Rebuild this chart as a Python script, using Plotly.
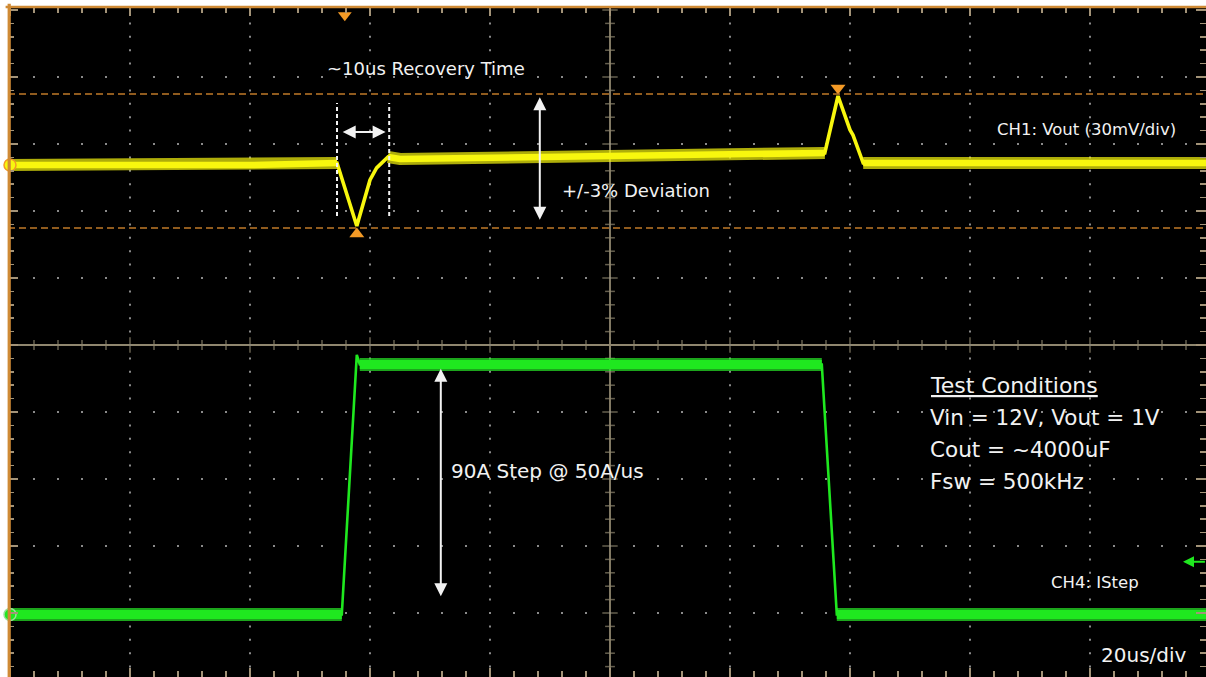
import plotly.graph_objects as go

# ---------------- data (read from the scope capture) ----------------
# CH1: Vout deviation from 1 V nominal, mV  (30 mV/div)
vout_t_us = [-0.33, 20.0, 40.0, 54.5, 57.8, 60.0, 61.1, 63.0, 65.0, 100.0, 120.0,
             135.8, 138.0, 140.0, 140.5, 142.2, 160.0, 199.33]
vout_mv = [-1.8, -1.8, -1.8, -0.9, -29.1, -8.5, -3.1, 1.8, 0.9, 2.2, 2.9,
           3.6, 29.1, 13.9, 11.6, -0.9, -0.9, -0.9]
vout_flat_segments = [(0, 3), (7, 11), (15, 17)]     # index ranges of steady state

# CH4: load current step, A
istep_t_us = [-0.33, 55.3, 57.8, 58.3, 100.0, 135.3, 137.8, 199.33]
istep_a = [0.0, 0.0, 93.5, 90.0, 90.0, 90.0, 0.0, 0.0]
istep_flat_segments = [(0, 1), (3, 5), (6, 7)]

# cursors (+/-3 % of 1 V)
cursor_mv = [30.0, -30.0]

# annotation texts
recovery_label = "~10us Recovery Time"
deviation_label = "+/-3% Deviation"
ch1_label = "CH1: Vout (30mV/div)"
step_label = "90A Step @ 50A/us"
cond_title = "Test Conditions"
cond_lines = ["Vin = 12V, Vout = 1V", "Cout = ~4000uF", "Fsw = 500kHz"]
ch4_label = "CH4: IStep"
timebase_label = "20us/div"

# ---------------- geometry / styles ----------------
W, H = 1206, 677
ML, MT = 8, 7
PX_PER_US = 6.0
X0_PX = 10.0
x_range = [(ML - X0_PX) / PX_PER_US, (W - X0_PX) / PX_PER_US]
DIV = 67.0
CENTER_Y_PX = 345.0
y_div_range = [-(H - CENTER_Y_PX) / DIV, (CENTER_Y_PX - MT) / DIV]
VOUT_ZERO_PX = 161.0
MV_PER_DIV = 30.0
y_mv_range = [-(H - VOUT_ZERO_PX) / DIV * MV_PER_DIV, (VOUT_ZERO_PX - MT) / DIV * MV_PER_DIV]
I_ZERO_PX = 614.5
PX_PER_A = 250.0 / 90.0
y_a_range = [-(H - I_ZERO_PX) / PX_PER_A, (I_ZERO_PX - MT) / PX_PER_A]

YELLOW = "#f8f70e"
GREEN = "#1fe81f"
ORANGE = "#f39a26"
CURSOR = "#c07a28"
FRAME = "#cf8a35"
TICK = "#a39378"
CENTER = "#90876f"
DOT = "#8a8a8a"
WHITE = "#f2f2f2"
FONT = "DejaVu Sans"

fig = go.Figure()

# grid dots
dot_x, dot_y = [], []
for k in range(1, 10):
    if k == 5:
        continue
    for j in range(-24, 26):
        dot_x.append(20 * k)
        dot_y.append(j * 0.2)
for r in range(-4, 5):
    if r == 0:
        continue
    for j in range(1, 50):
        dot_x.append(j * 4)
        dot_y.append(r)
fig.add_trace(go.Scatter(x=dot_x, y=dot_y, mode="markers", yaxis="y",
                         marker=dict(symbol="square", size=2, color=DOT, line=dict(width=0)),
                         hoverinfo="skip", showlegend=False))

# centre crosshair
fig.add_shape(type="line", xref="paper", x0=0, x1=1, yref="y", y0=0, y1=0,
              line=dict(color=CENTER, width=1.8), layer="below")
fig.add_shape(type="line", xref="x", x0=100, x1=100, yref="paper", y0=0, y1=1,
              line=dict(color=CENTER, width=1.8), layer="below")
hx = [j * 4 for j in range(1, 50)]
fig.add_trace(go.Scatter(x=hx, y=[0] * len(hx), mode="markers",
                         marker=dict(symbol="line-ns", size=[11 if v % 20 == 0 else 7 for v in hx],
                                     line=dict(color=CENTER, width=1.5)),
                         hoverinfo="skip", showlegend=False))
vy = [j * 0.2 for j in range(-24, 26)]
fig.add_trace(go.Scatter(x=[100] * len(vy), y=vy, mode="markers",
                         marker=dict(symbol="line-ew", size=[11 if abs(v - round(v)) < 1e-6 else 7 for v in vy],
                                     line=dict(color=CENTER, width=1.5)),
                         hoverinfo="skip", showlegend=False))

# cursors
for c in cursor_mv:
    fig.add_shape(type="line", xref="paper", x0=0, x1=1, yref="y2", y0=c, y1=c,
                  line=dict(color=CURSOR, width=1.6, dash="7px,4px"))


def flat_parts(xs, ys, segs):
    ox, oy = [], []
    for a, b in segs:
        ox += xs[a:b + 1] + [None]
        oy += ys[a:b + 1] + [None]
    return ox, oy


# CH4 current trace
fig.add_trace(go.Scatter(x=istep_t_us, y=istep_a, yaxis="y3", mode="lines",
                         line=dict(color=GREEN, width=2.6),
                         hoverinfo="skip", showlegend=False))
gx, gy = flat_parts(istep_t_us, istep_a, istep_flat_segments)
fig.add_trace(go.Scatter(x=gx, y=gy, yaxis="y3", mode="lines", connectgaps=False,
                         line=dict(color="rgba(40,235,40,0.7)", width=13),
                         hoverinfo="skip", showlegend=False))
fig.add_trace(go.Scatter(x=gx, y=gy, yaxis="y3", mode="lines", connectgaps=False,
                         line=dict(color=GREEN, width=9),
                         hoverinfo="skip", showlegend=False))

# CH1 Vout trace
fig.add_trace(go.Scatter(x=vout_t_us, y=vout_mv, yaxis="y2", mode="lines",
                         line=dict(color=YELLOW, width=3.6),
                         hoverinfo="skip", showlegend=False))
yx, yy = flat_parts(vout_t_us, vout_mv, vout_flat_segments)
fig.add_trace(go.Scatter(x=yx, y=yy, yaxis="y2", mode="lines", connectgaps=False,
                         line=dict(color="rgba(248,247,14,0.7)", width=12),
                         hoverinfo="skip", showlegend=False))
fig.add_trace(go.Scatter(x=yx, y=yy, yaxis="y2", mode="lines", connectgaps=False,
                         line=dict(color=YELLOW, width=6.5),
                         hoverinfo="skip", showlegend=False))

# cursor markers at the trough and the peak
i_min = vout_mv.index(min(vout_mv))
i_max = vout_mv.index(max(vout_mv))
fig.add_trace(go.Scatter(x=[vout_t_us[i_min]], y=[cursor_mv[1] - 2.7], yaxis="y2", mode="markers",
                         marker=dict(symbol="triangle-up", size=13, color=ORANGE, line=dict(width=0)),
                         hoverinfo="skip", showlegend=False))
fig.add_trace(go.Scatter(x=[vout_t_us[i_max]], y=[cursor_mv[0] + 2.7], yaxis="y2", mode="markers",
                         marker=dict(symbol="triangle-down", size=13, color=ORANGE, line=dict(width=0)),
                         hoverinfo="skip", showlegend=False))
# trigger position marker at top
fig.add_trace(go.Scatter(x=[istep_t_us[1] + 0.5], y=[4.92], yaxis="y", mode="markers",
                         marker=dict(symbol="triangle-down", size=12, color=ORANGE, line=dict(width=0)),
                         hoverinfo="skip", showlegend=False))
# channel ground markers
fig.add_trace(go.Scatter(x=[0], y=[vout_mv[0]], yaxis="y2", mode="markers", cliponaxis=False,
                         marker=dict(symbol="circle", size=12, color=YELLOW, line=dict(color=ORANGE, width=1.5)),
                         hoverinfo="skip", showlegend=False))
fig.add_trace(go.Scatter(x=[0], y=[istep_a[0]], yaxis="y3", mode="markers", cliponaxis=False,
                         marker=dict(symbol="circle", size=12, color=GREEN, line=dict(color="#9be09b", width=1.5)),
                         hoverinfo="skip", showlegend=False))

# white dashed recovery-time markers
rec_t = [vout_t_us[3], vout_t_us[7] + 0.2]
for t in rec_t:
    fig.add_shape(type="line", xref="x", x0=t, x1=t, yref="y2", y0=-24.6, y1=26.0,
                  line=dict(color=WHITE, width=2, dash="4px,3px"))

ann = []


def arrow(x, y, ax, ay, yref, color=WHITE):
    ann.append(dict(x=x, y=y, ax=ax, ay=ay, xref="x", yref=yref, axref="x", ayref=yref,
                    text="", showarrow=True, arrowhead=2, arrowside="end+start",
                    arrowsize=1.3, arrowwidth=2, arrowcolor=color, standoff=0, startstandoff=0))


arrow(rec_t[1] - 0.6, 13.0, rec_t[0] + 0.7, 13.0, "y2")
arrow(88.3, 28.5, 88.3, -27.0, "y2")
arrow(71.8, 88.5, 71.8, 6.0, "y3")
# CH4 trigger-level arrow on the right edge
ann.append(dict(x=195.5, y=19.0, ax=199.4, ay=19.0, xref="x", yref="y3", axref="x", ayref="y3",
                text="", showarrow=True, arrowhead=2, arrowsize=1.1, arrowwidth=2,
                arrowcolor=GREEN, standoff=0))


def label(text, x, y, yref, size, xanchor="left"):
    ann.append(dict(x=x, y=y, xref="x", yref=yref, text=text, showarrow=False,
                    xanchor=xanchor, yanchor="middle", borderpad=0,
                    font=dict(family=FONT, size=size, color=WHITE)))


label(recovery_label, 69.3, 41.2, "y2", 18, "center")
label(deviation_label, 91.8, -13.4, "y2", 18)
label(ch1_label, 164.4, 13.9, "y2", 16.5)
label(step_label, 73.4, 51.5, "y3", 20)
label("<u>" + cond_title + "</u>", 153.2, 82.5, "y3", 22)
for i, line in enumerate(cond_lines):
    label(line, 153.2, 71.0 - i * 11.5, "y3", 21.5)
label(ch4_label, 173.4, 11.4, "y3", 16.5)
label(timebase_label, 196.4, -14.6, "y3", 20, "right")

# frame (orange left / top border)
fig.add_shape(type="line", xref="paper", x0=1.2 / (W - ML), x1=1.2 / (W - ML), yref="paper", y0=0, y1=1.005,
              line=dict(color=FRAME, width=3.2))
fig.add_shape(type="line", xref="paper", x0=-0.002, x1=1, yref="paper", y0=1.0, y1=1.0,
              line=dict(color=FRAME, width=2.5))

axis_common = dict(showgrid=False, zeroline=False, showticklabels=False, showline=False,
                   ticks="inside", tickcolor=TICK, tickwidth=1.5, mirror="ticks", fixedrange=True)

fig.update_layout(
    width=W, height=H,
    margin=dict(l=ML, r=0, t=MT, b=0, pad=0),
    paper_bgcolor="white", plot_bgcolor="black",
    showlegend=False,
    annotations=ann,
    xaxis=dict(range=x_range, tickmode="linear", tick0=0, dtick=20, ticklen=9,
               minor=dict(ticks="inside", tickmode="linear", tick0=0, dtick=4, ticklen=6,
                          tickcolor=TICK, tickwidth=1.5),
               **axis_common),
    yaxis=dict(range=y_div_range, tickmode="linear", tick0=0, dtick=1, ticklen=10,
               minor=dict(ticks="inside", tickmode="linear", tick0=0, dtick=0.2, ticklen=6,
                          tickcolor=TICK, tickwidth=1.5),
               **axis_common),
    yaxis2=dict(range=y_mv_range, overlaying="y", visible=False, fixedrange=True),
    yaxis3=dict(range=y_a_range, overlaying="y", visible=False, fixedrange=True),
)

fig.write_html("out.html", config={"displayModeBar": False, "staticPlot": True},
               post_script="document.body.style.margin='0';document.body.style.overflow='hidden';")
